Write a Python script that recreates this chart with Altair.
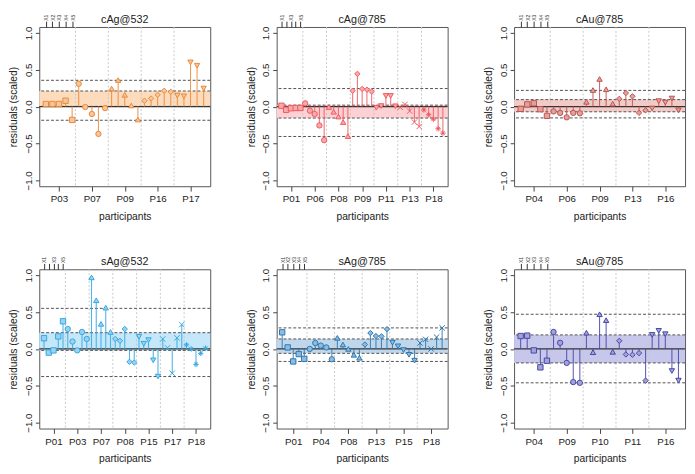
import altair as alt
import pandas as pd

# ---------------- data ----------------
cag532_participants = ["P03", "P07", "P09", "P16", "P17"]
cag532_values = [0.035, 0.035, 0.035, 0.08, -0.18,
                 0.31, -0.005, -0.10, -0.37, -0.02,
                 0.245, 0.36, 0.16, 0.015, -0.175,
                 0.08, 0.11, 0.16, 0.215, 0.20,
                 0.15, 0.14, 0.60, 0.555, 0.245]
cag532_band = [0.003, 0.212]
cag532_lines = [0.357, 0.212, 0.003, -0.185]

cag785_participants = ["P01", "P06", "P08", "P09", "P11", "P13", "P18"]
cag785_values = [0.012, -0.043, -0.022, -0.018, -0.018,
                 0.045, -0.055, -0.10, -0.255, -0.455,
                 -0.005, -0.07, -0.135, -0.21, -0.40,
                 0.215, 0.445, 0.24, 0.23, 0.205,
                 -0.015, 0.008, 0.145, 0.145, 0.005,
                 -0.01, 0.03, -0.06, -0.21, -0.27,
                 -0.045, -0.11, -0.17, -0.30, -0.36]
cag785_band = [-0.155, 0.02]
cag785_lines = [0.245, 0.02, -0.155, -0.405]

cau785_participants = ["P04", "P06", "P09", "P13", "P16"]
cau785_values = [-0.03, 0.03, 0.045, -0.035, -0.125,
                 -0.065, -0.085, -0.145, -0.085, -0.09,
                 0.065, 0.225, 0.375, 0.235, 0.04,
                 0.105, 0.185, 0.14, -0.085, -0.05,
                 -0.025, 0.075, 0.055, 0.11, -0.05]
cau785_band = [-0.07, 0.095]
cau785_lines = [0.22, 0.095, -0.07, -0.153]

sag532_participants = ["P01", "P03", "P07", "P08", "P15", "P17", "P18"]
sag532_values = [0.145, -0.05, -0.02, 0.17, 0.375,
                 0.27, 0.10, -0.02, 0.23, 0.135,
                 0.97, 0.66, 0.34, 0.56, 0.23,
                 0.135, 0.11, 0.27, -0.175, -0.185,
                 0.165, 0.07, 0.12, -0.155, -0.375,
                 0.135, 0.015, -0.33, 0.15, 0.33,
                 0.055, 0.0, -0.21, -0.06, 0.01]
sag532_band = [-0.02, 0.22]
sag532_lines = [0.55, 0.22, -0.02, -0.375]

sag785_participants = ["P01", "P04", "P08", "P13", "P15", "P18"]
sag785_values = [0.225, 0.02, -0.17, -0.07, -0.135,
                 0.0, 0.08, 0.045, 0.02, -0.14,
                 0.15, 0.06, 0.0, -0.08, -0.12,
                 0.06, 0.215, 0.175, 0.17, 0.268,
                 0.085, 0.035, -0.015, -0.08, -0.16,
                 0.08, 0.13, 0.0, 0.16, 0.285]
sag785_band = [-0.06, 0.135]
sag785_lines = [0.285, 0.135, -0.06, -0.17]

sau785_participants = ["P04", "P09", "P10", "P11", "P16"]
sau785_values = [0.175, 0.18, -0.02, -0.25, -0.16,
                 0.23, 0.083, -0.19, -0.45, -0.46,
                 0.22, -0.045, 0.47, 0.39, -0.04,
                 0.11, -0.075, -0.08, -0.057, -0.43,
                 0.19, 0.245, 0.20, -0.30, -0.43]
sau785_band = [-0.19, 0.19]
sau785_lines = [0.47, 0.19, -0.19, -0.46]

top_ticks = [1, 2, 3, 4, 5]
y_ticks = [-1.0, -0.5, 0.0, 0.5, 1.0]

# ---------------- styling ----------------
W, H = 175, 163
FONT = "Liberation Sans"
X_PATH = "M-1,-1L1,1M-1,1L1,-1"
AST_PATH = "M-1,0L1,0M0,-1L0,1M-0.7,-0.7L0.7,0.7M-0.7,0.7L0.7,-0.7"
SHAPES = ["square", "circle", "triangle-up", "diamond", "triangle-down", X_PATH, AST_PATH]
GROUP_KEYS = ["g0", "g1", "g2", "g3", "g4", "g5", "g6"]


def panel(title, participants, values, band, lines, stroke, fill, band_color, sparse_top):
    n = len(values)
    df = pd.DataFrame({
        "i": list(range(1, n + 1)),
        "v": values,
        "g": [GROUP_KEYS[k // 5] for k in range(n)],
    })
    xs = alt.Scale(domain=[0, n + 1], nice=False, zero=False)
    ys = alt.Scale(domain=[-1.08, 1.08], nice=False, zero=False)
    centers = [5 * k + 3 for k in range(len(participants))]
    lab = "[" + ",".join("'%s'" % p for p in participants) + "][(datum.value-3)/5]"
    top_expr = "datum.value % 2 == 1 ? 'X' + datum.value : ''" if sparse_top else "'X' + datum.value"

    band_l = alt.Chart(pd.DataFrame({"lo": [band[0]], "hi": [band[1]]})).mark_rect(
        color=band_color).encode(y=alt.Y("lo:Q", scale=ys, axis=None), y2="hi:Q")

    seps = alt.Chart(pd.DataFrame({"s": [5 * k + 5.5 for k in range(len(participants) - 1)]})).mark_rule(
        color="#c8c8c8", strokeDash=[2, 2], strokeWidth=1).encode(x=alt.X("s:Q", scale=xs, axis=None))

    hlines = alt.Chart(pd.DataFrame({"h": lines})).mark_rule(
        color="#505050", strokeDash=[3, 2], strokeWidth=1).encode(y=alt.Y("h:Q", scale=ys, axis=None))

    zero = alt.Chart(pd.DataFrame({"z": [0.0]})).mark_rule(
        color="#333333", strokeWidth=1.4).encode(y=alt.Y("z:Q", scale=ys, axis=None))

    stems = alt.Chart(df).mark_rule(color=stroke, strokeWidth=1.1, opacity=0.85).encode(
        x=alt.X("i:Q", scale=xs, axis=None),
        y=alt.Y("v:Q", scale=ys, axis=None),
        y2=alt.datum(0),
    )

    pts = alt.Chart(df).mark_point(filled=True, fill=fill, stroke=stroke, strokeWidth=1,
                                   size=30, opacity=1).encode(
        x=alt.X("i:Q", scale=xs, axis=alt.Axis(
            values=centers, labelExpr=lab, title="participants", grid=False, domain=False,
            tickSize=5, tickColor="#444", labelPadding=3, labelFontSize=10, labelColor="#222",
            titleFontSize=10.5, titleFontWeight="normal", titleColor="#222", titlePadding=8,
            labelOverlap=False, labelFlush=False)),
        y=alt.Y("v:Q", scale=ys, axis=alt.Axis(
            values=y_ticks, format=".1f", labelAngle=270, labelAlign="center", labelBaseline="bottom",
            title="residuals (scaled)", grid=False, domain=False, tickSize=4, tickColor="#444",
            labelPadding=2, labelFontSize=10, labelColor="#222", titleFontSize=10.5,
            titleFontWeight="normal", titleColor="#222", titlePadding=5,
            labelOverlap=False, labelFlush=False)),
        shape=alt.Shape("g:N", scale=alt.Scale(domain=GROUP_KEYS, range=SHAPES), legend=None),
    )

    top = alt.Chart(pd.DataFrame({"t": top_ticks})).mark_point(opacity=0).encode(
        x=alt.X("t:Q", scale=xs, axis=alt.Axis(
            orient="top", values=top_ticks, labelExpr=top_expr, labelAngle=270,
            labelAlign="left", labelBaseline="middle", labelFontSize=5, labelPadding=1,
            tickSize=6, tickColor="#333", domain=False, grid=False, title=None,
            labelOverlap=False, labelFlush=False, labelColor="#333")),
    )

    ttl = alt.Chart(pd.DataFrame({"t": [title]})).mark_text(
        fontSize=11, align="center", baseline="middle", color="#222", font=FONT).encode(
        text="t:N", x=alt.value(W / 2), y=alt.value(-7))

    return alt.layer(band_l, seps, hlines, zero, stems, pts, top, ttl).resolve_axis(
        x="independent", y="independent").properties(width=W, height=H)


panels = [
    panel("cAg@532", cag532_participants, cag532_values, cag532_band, cag532_lines,
          "#E8893A", "#F9C596", "#FDDCBE", False),
    panel("cAg@785", cag785_participants, cag785_values, cag785_band, cag785_lines,
          "#EE5A5E", "#F9A9AC", "#FDD0D3", True),
    panel("cAu@785", cau785_participants, cau785_values, cau785_band, cau785_lines,
          "#C0524E", "#E3A19D", "#F2CBC7", False),
    panel("sAg@532", sag532_participants, sag532_values, sag532_band, sag532_lines,
          "#35A7E0", "#9AD3F2", "#C4E7FA", True),
    panel("sAg@785", sag785_participants, sag785_values, sag785_band, sag785_lines,
          "#2B77B0", "#8DBCE0", "#BED7EC", False),
    panel("sAu@785", sau785_participants, sau785_values, sau785_band, sau785_lines,
          "#4646A8", "#A3A3DA", "#C7C7EC", False),
]

chart = alt.concat(*panels, columns=3, spacing={"row": 34, "column": 34}, padding=0).configure(
    font=FONT, background="white").configure_view(stroke="#555555", strokeWidth=1)

chart.save("out.html", embed_options={"renderer": "svg", "actions": False})
